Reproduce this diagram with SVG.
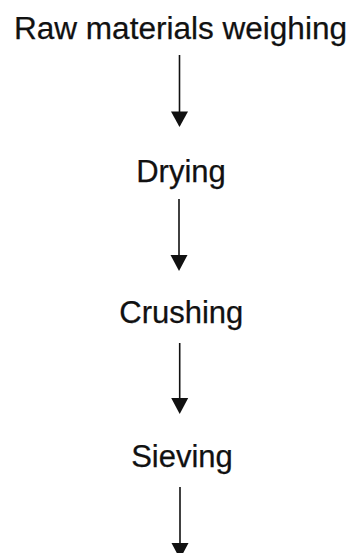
<svg xmlns="http://www.w3.org/2000/svg" width="353" height="553" viewBox="0 0 353 553">
<style>
.lbl{font-family:"Liberation Sans",Arial,Helvetica,sans-serif;font-size:31px;fill:#111;text-anchor:middle;stroke:#111;stroke-width:0.25}
.conn{stroke:#111;stroke-width:1.6;fill:none}
.head{fill:#111}
</style>
<rect width="353" height="553" fill="#fff"/>
<g id="connectors">
<line class="conn" x1="179.5" y1="55" x2="179.5" y2="112" />
<path class="head" d="M171,111.5 L188,111.5 L179.5,127 Z"/>
<line class="conn" x1="179" y1="199" x2="179" y2="256" />
<path class="head" d="M170.5,255 L187.5,255 L179,271 Z"/>
<line class="conn" x1="179.7" y1="343" x2="179.7" y2="399" />
<path class="head" d="M171.2,398 L188.2,398 L179.7,414 Z"/>
<line class="conn" x1="180" y1="487" x2="180" y2="544" />
<path class="head" d="M171.5,543 L188.5,543 L180,559 Z"/>
</g>
<g id="node-raw"><text class="lbl" x="180.5" y="39" textLength="333" lengthAdjust="spacingAndGlyphs">Raw materials weighing</text></g>
<g id="node-drying"><text class="lbl" x="181" y="182">Drying</text></g>
<g id="node-crushing"><text class="lbl" x="181.3" y="323">Crushing</text></g>
<g id="node-sieving"><text class="lbl" x="182" y="467">Sieving</text></g>
</svg>
